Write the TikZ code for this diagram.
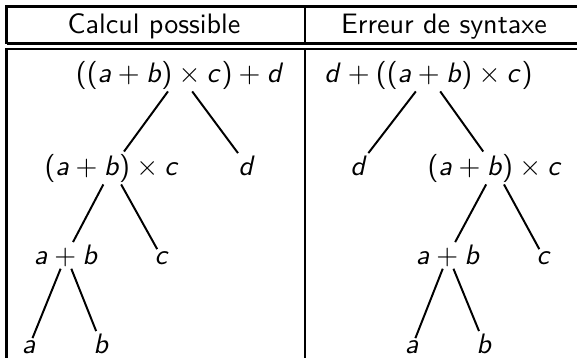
\documentclass[tikz,border=0pt]{standalone}
\usepackage{amsmath}
\usepackage{tikz}
\usetikzlibrary{positioning}

\renewcommand{\familydefault}{\sfdefault}
% sans serif letters in math
\DeclareSymbolFont{sfletters}{OT1}{cmss}{m}{sl}
\DeclareSymbolFont{sfupright}{OT1}{cmss}{m}{n}
\DeclareMathSymbol{a}{\mathalpha}{sfletters}{`a}
\DeclareMathSymbol{b}{\mathalpha}{sfletters}{`b}
\DeclareMathSymbol{c}{\mathalpha}{sfletters}{`c}
\DeclareMathSymbol{d}{\mathalpha}{sfletters}{`d}
\DeclareMathSymbol{+}{\mathbin}{sfupright}{`+}
\DeclareMathSymbol{(}{\mathopen}{sfupright}{`(}
\DeclareMathSymbol{)}{\mathclose}{sfupright}{`)}

\begin{document}
\begin{tikzpicture}[line width=0.7pt,
    expr/.style={anchor=base, inner sep=0.5pt},
    frame/.style={line width=1.05pt}]
\useasboundingbox (0,0) rectangle (7.2125,4.4625);

% table
\draw[frame] (0.08125,3.9188) -- (0.08125,4.3813) -- (7.3,4.3813);
\draw[frame] (0.08125,-0.1) -- (0.08125,3.85) -- (7.3,3.85);
\draw[frame] (0.08125,3.9188) -- (7.3,3.9188);
\draw (3.8125,3.9188) -- (3.8125,4.3813);
\draw (3.8125,-0.1) -- (3.8125,3.85);

\node[expr] (hleft)  at (1.925,4.05) {Calcul possible};
\node[expr] (hright) at (5.55,4.05)  {Erreur de syntaxe};

% left tree
\node[expr] (rootA) at (2.25,3.4375)  {$((a+b)\times c)+d$};
\node[expr] (prodA) at (1.40,2.275)   {$(a+b)\times c$};
\node[expr] (dA)    at (3.0875,2.275) {$d$};
\node[expr] (sumA)  at (0.825,1.1625) {$a+b$};
\node[expr] (cA)    at (2.025,1.1625) {$c$};
\node[expr] (aA)    at (0.3625,0.05)  {$a$};
\node[expr] (bA)    at (1.2625,0.05)  {$b$};

\draw (rootA) -- (prodA);
\draw (rootA) -- (dA);
\draw (prodA) -- (sumA);
\draw (prodA) -- (cA);
\draw (sumA) -- (aA);
\draw (sumA) -- (bA);

% right tree
\node[expr] (rootB) at (5.356,3.4375) {$d+((a+b)\times c)$};
\node[expr] (dB)    at (4.4875,2.275) {$d$};
\node[expr] (prodB) at (6.1875,2.275) {$(a+b)\times c$};
\node[expr] (sumB)  at (5.6,1.1625)   {$a+b$};
\node[expr] (cB)    at (6.8,1.1625)   {$c$};
\node[expr] (aB)    at (5.15,0.05)    {$a$};
\node[expr] (bB)    at (6.05,0.05)    {$b$};

\draw (rootB) -- (dB);
\draw (rootB) -- (prodB);
\draw (prodB) -- (sumB);
\draw (prodB) -- (cB);
\draw (sumB) -- (aB);
\draw (sumB) -- (bB);
\end{tikzpicture}
\end{document}
